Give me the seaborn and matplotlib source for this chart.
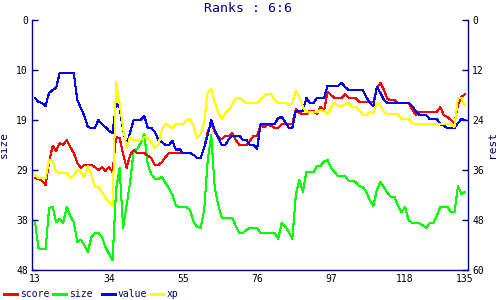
import matplotlib
matplotlib.use("Agg")
import matplotlib.pyplot as plt
import seaborn as sns
import pandas as pd
from matplotlib.lines import Line2D

# ---------------- data ----------------
rounds = list(range(13, 136))

score = [37.9, 38.2, 38.6, 39.6, 34.1, 30.2, 31.4, 29.5, 30.0, 28.8, 30.5, 31.9, 34.3, 35.5, 34.8, 34.8,
         34.8, 35.3, 36.0, 35.3, 36.2, 35.3, 36.5, 28.1, 28.3,
         32.2, 35.5, 32.4, 31.2, 31.9, 31.9, 31.9, 32.6, 33.1, 34.8, 34.8, 34.1, 32.9, 31.9, 31.9, 31.9,
         31.9, 31.9, 31.9, 31.9, 32.4, 33.1, 33.1, 30.7, 26.9, 24.7,
         26.9, 28.1, 28.6, 27.8, 27.8, 27.1, 28.8, 30.0, 30.0, 30.0, 29.0, 27.8, 27.8, 25.2, 25.7, 25.2,
         25.4, 25.9, 25.9, 25.0, 25.0, 25.0, 25.0, 21.4,
         22.3, 22.6, 22.6, 21.8, 21.8, 22.6, 20.9, 21.8, 17.3, 18.0, 18.7, 18.7, 18.7, 17.8, 18.7, 18.7,
         18.7, 19.7, 19.7, 19.7, 19.7, 19.7, 16.3, 15.1, 16.8,
         19.0, 19.2, 19.2, 19.9, 19.9, 19.9, 19.9, 21.4, 22.8, 22.1, 22.1, 22.1, 22.1, 22.1, 22.1, 20.9,
         22.8, 23.3, 24.0, 24.7, 20.4, 18.5, 17.8]

size = [38.8, 43.8, 44.0, 44.0, 36.1, 35.9, 38.8, 38.2, 39.0, 35.9, 37.6, 38.8, 42.6, 42.2, 43.2, 44.5,
        41.7, 40.9, 40.9, 41.7, 43.6, 44.9, 46.1, 32.6, 28.4,
        39.9, 35.5, 31.1, 25.0, 24.8, 23.6, 21.9, 27.8, 29.6, 30.5, 30.5, 30.1, 31.3, 32.3, 33.6, 35.7,
        35.9, 35.9, 35.9, 36.5, 38.8, 39.7, 39.9, 36.5, 26.9, 22.1,
        32.3, 35.5, 38.0, 38.0, 38.0, 38.0, 39.6, 40.9, 40.9, 40.3, 39.9, 39.9, 39.9, 40.9, 40.9, 40.9,
        40.9, 40.9, 42.0, 39.0, 39.7, 40.7, 42.0, 33.6,
        30.7, 33.0, 29.2, 29.2, 29.2, 28.0, 28.0, 27.1, 26.9, 28.4, 29.2, 30.0, 30.0, 30.0, 30.9, 30.9,
        31.1, 31.9, 32.1, 33.0, 34.6, 35.7, 32.6, 31.1, 32.1,
        33.2, 34.0, 34.0, 35.7, 36.9, 35.9, 38.4, 39.0, 39.0, 39.0, 39.4, 39.9, 39.0, 39.0, 37.6, 35.9,
        35.9, 35.9, 36.9, 36.9, 31.9, 33.4, 33.0]

value = [18.7, 19.7, 19.9, 20.6, 17.5, 16.8, 16.3, 12.7, 12.7, 12.7, 12.7, 12.7,
         19.2, 21.1, 23.0, 25.7, 25.9, 25.9, 24.0, 25.0, 25.7, 26.6, 27.1, 19.9, 21.1,
         26.4, 30.0, 26.9, 24.0, 24.0, 24.0, 23.0, 25.9, 25.9, 26.9, 28.8, 29.3, 30.0, 30.0, 29.0, 31.2,
         31.0, 31.9, 31.9, 31.9, 32.4, 33.1, 33.1, 30.7, 27.6, 24.0,
         26.4, 28.3, 30.0, 30.0, 28.6, 27.8, 27.8, 27.8, 28.8, 28.8, 30.0, 30.0, 31.0, 25.0, 25.0, 25.0,
         25.0, 25.0, 23.5, 23.3, 24.5, 25.9, 25.9, 21.8,
         21.8, 21.8, 18.7, 19.9, 19.9, 18.7, 18.7, 18.7, 15.8, 15.8, 15.8, 15.8, 15.1, 16.1, 16.8, 16.8,
         16.8, 16.8, 16.8, 18.5, 19.9, 20.6, 16.1, 17.5, 19.2,
         19.9, 19.9, 19.9, 19.9, 19.9, 19.9, 19.9, 20.6, 21.8, 22.8, 22.8, 22.8, 23.8, 23.8, 23.8, 25.0,
         25.4, 25.9, 25.9, 25.9, 24.7, 23.8, 24.0]

xp = [37.2, 37.9, 37.9, 37.9, 33.6, 33.8, 36.5, 36.7, 36.7, 36.7, 37.9, 37.4, 36.0, 36.5, 37.7, 35.0,
      37.2, 40.1, 40.1, 41.3, 42.7, 43.7, 44.6, 14.9, 19.9,
      25.9, 30.7, 28.1, 28.8, 28.8, 28.8, 28.1, 28.3, 29.5, 30.7, 30.0, 26.4, 25.0, 25.4, 25.9, 25.0,
      25.0, 25.0, 24.0, 23.8, 25.4, 28.3, 27.4, 24.5, 17.3, 16.6,
      19.7, 22.3, 23.8, 22.3, 21.6, 20.2, 18.7, 18.7, 19.4, 19.9, 19.9, 19.9, 19.9, 19.0, 18.2, 17.8,
      17.8, 19.2, 19.9, 19.9, 19.9, 20.4, 19.9, 17.0,
      18.5, 20.9, 22.1, 22.1, 22.1, 22.1, 21.6, 21.8, 22.6, 20.9, 19.9, 20.6, 20.6, 20.2, 19.9, 20.9,
      20.9, 21.6, 22.8, 22.8, 22.1, 22.3, 19.9, 20.4, 22.1,
      22.6, 22.6, 22.6, 22.6, 23.8, 23.8, 23.8, 24.7, 25.0, 25.0, 25.0, 25.0, 25.0, 25.0, 25.0, 25.0,
      25.0, 25.0, 25.0, 25.7, 18.7, 18.7, 20.6]

x_ticks = [13, 34, 55, 76, 97, 118, 135]
left_ticks = [0, 9.6, 19.2, 28.8, 38.4, 48]
left_labels = ["0", "10", "19", "29", "38", "48"]
right_ticks = [0, 12, 24, 36, 48, 60]
right_labels = ["0", "12", "24", "36", "48", "60"]
series_names = ["score", "size", "value", "xp"]
series_colors = ["#ff0000", "#00ff00", "#0000ff", "#ffff00"]
title_text = "Ranks : 6:6"

# ---------------- style ----------------
NAVY = "#000080"
sns.set_theme(style="white")
plt.rcParams["font.family"] = ["DejaVu Sans Mono", "DejaVu Sans"]

df = pd.DataFrame({"round": rounds, "score": score, "size": size, "value": value, "xp": xp})

fig = plt.figure(figsize=(5, 3), dpi=100)
fig.patch.set_facecolor("white")
ax = fig.add_axes([32 / 500, 30 / 300, 436 / 500, 250 / 300])
ax2 = ax.twinx()

color_of = dict(zip(series_names, series_colors))
sns.lineplot(data=df, x="round", y="size", ax=ax, color=color_of["size"], lw=0.75, antialiased=False)
for name in ["score", "value", "xp"]:
    sns.lineplot(data=df, x="round", y=name, ax=ax2, color=color_of[name], lw=0.75, antialiased=False)

ax.set_xlim(12.15, 135.85)
ax.set_ylim(48, 0)
ax2.set_ylim(60, 0)

ax.set_xticks(x_ticks)
ax.set_xticklabels([str(t) for t in x_ticks])
ax.set_yticks(left_ticks)
ax.set_yticklabels(left_labels)
ax2.set_yticks(right_ticks)
ax2.set_yticklabels(right_labels)

for a in (ax, ax2):
    a.set_facecolor("none")
    a.grid(False)
    a.tick_params(direction="in", length=4, width=1, color=NAVY, labelsize=7,
                  labelcolor="black", pad=3)
    for s in a.spines.values():
        s.set_visible(False)

ax.spines["left"].set_visible(True)
ax.spines["bottom"].set_visible(True)
ax2.spines["right"].set_visible(True)
for s in (ax.spines["left"], ax.spines["bottom"], ax2.spines["right"]):
    s.set_color(NAVY)
    s.set_linewidth(1.0)

ax.set_xlabel("")
ax.set_ylabel("size", color=NAVY, fontsize=8)
ax.yaxis.set_label_coords((9 - 32) / 436, 0.5)
ax2.set_ylabel("rest", color=NAVY, fontsize=8)
ax2.yaxis.set_label_coords((487 - 32) / 436, 0.5)

fig.text(248.5 / 500, 1 - 9 / 300, title_text, ha="center", va="center", color=NAVY, fontsize=9.5)

# legend row at the bottom
leg_y = 1 - 294 / 300
for i, (name, col) in enumerate(zip(series_names, series_colors)):
    x0 = 4 + 49 * i
    fig.add_artist(Line2D([x0 / 500, (x0 + 13) / 500], [leg_y, leg_y], color=col, lw=2,
                          transform=fig.transFigure, antialiased=False))
    fig.text((x0 + 16) / 500, leg_y, name, ha="left", va="center", color=NAVY, fontsize=7)

fig.savefig("out.png", dpi=100)
